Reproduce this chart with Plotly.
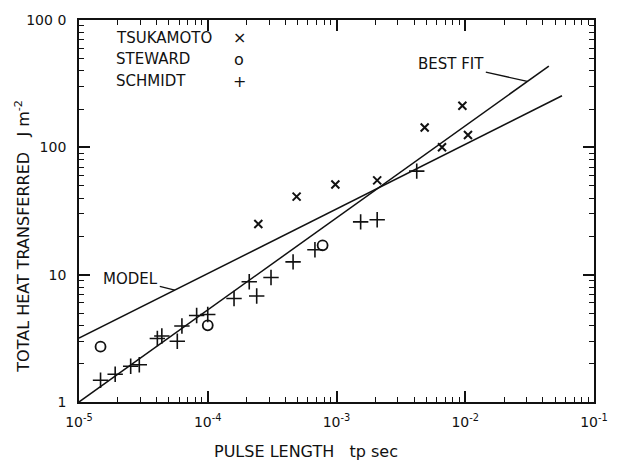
import plotly.graph_objects as go

# Data
tsukamoto_x = [2.47e-4, 4.9e-4, 9.8e-4, 2.07e-3, 4.84e-3, 6.6e-3, 9.5e-3, 1.05e-2]
tsukamoto_y = [25, 41, 51, 55, 143, 100, 212, 125]

steward_x = [1.47e-5, 1.0e-4, 7.8e-4]
steward_y = [2.72, 4.0, 17]

schmidt_x = [1.47e-5, 1.91e-5, 2.52e-5, 2.94e-5, 4.06e-5, 4.4e-5, 5.8e-5, 6.3e-5,
             8.2e-5, 1.0e-4, 1.6e-4, 2.1e-4, 2.4e-4, 3.1e-4, 4.6e-4, 6.8e-4,
             1.54e-3, 2.07e-3, 4.2e-3]
schmidt_y = [1.48, 1.65, 1.91, 1.96, 3.15, 3.3, 3.0, 3.95,
             4.78, 4.87, 6.5, 8.8, 6.8, 9.5, 12.6, 15.7,
             26, 27, 65]

bestfit_x = [1e-5, 0.0446]
bestfit_y = [1.0, 435]

model_x = [1e-5, 0.0564]
model_y = [3.17, 254]

x_tickvals = [1e-5, 1e-4, 1e-3, 1e-2, 1e-1]
x_ticktext = ["10<sup>-5</sup>", "10<sup>-4</sup>", "10<sup>-3</sup>", "10<sup>-2</sup>", "10<sup>-1</sup>"]
y_tickvals = [1, 10, 100, 1000]
y_ticktext = ["1", "10", "100", "100 0"]

legend_names = ["TSUKAMOTO", "STEWARD", "SCHMIDT"]
legend_glyphs = ["×", "o", "+"]

FONT = "DejaVu Sans"
ink = "#111111"

fig = go.Figure()

fig.add_trace(go.Scatter(x=bestfit_x, y=bestfit_y, mode="lines",
                         line=dict(color=ink, width=1.5), name="BEST FIT", showlegend=False))
fig.add_trace(go.Scatter(x=model_x, y=model_y, mode="lines",
                         line=dict(color=ink, width=1.5), name="MODEL", showlegend=False))
fig.add_trace(go.Scatter(x=tsukamoto_x, y=tsukamoto_y, mode="markers", name="TSUKAMOTO",
                         marker=dict(symbol="x-thin", size=8, line=dict(color=ink, width=2)),
                         showlegend=False))
fig.add_trace(go.Scatter(x=steward_x, y=steward_y, mode="markers", name="STEWARD",
                         marker=dict(symbol="circle-open", size=10, color=ink, line=dict(color=ink, width=1.8)),
                         showlegend=False))
fig.add_trace(go.Scatter(x=schmidt_x, y=schmidt_y, mode="markers", name="SCHMIDT",
                         marker=dict(symbol="cross-thin", size=11, line=dict(color=ink, width=1.6)),
                         showlegend=False))

annotations = []
# Legend built from text
for i, (nm, gl) in enumerate(zip(legend_names, legend_glyphs)):
    ypx = 33 + i * 22
    yy = 1 - (ypx - 15) / 387
    annotations.append(dict(xref="paper", yref="paper", x=(114 - 79) / 520, y=yy,
                            text=nm, showarrow=False, xanchor="left", yanchor="middle",
                            font=dict(family=FONT, size=15, color=ink)))
    annotations.append(dict(xref="paper", yref="paper", x=(241 - 79) / 520, y=yy,
                            text=gl, showarrow=False, xanchor="center", yanchor="middle",
                            font=dict(family=FONT, size=16, color=ink)))

# Line labels with leader lines
annotations.append(dict(x=-1.518, y=2.518, xref="x", yref="y", text="BEST FIT",
                        showarrow=True, arrowhead=0, arrowwidth=1.3, arrowcolor=ink,
                        ax=-76, ay=-17, font=dict(family=FONT, size=15, color=ink)))
annotations.append(dict(x=-4.256, y=0.879, xref="x", yref="y", text="MODEL",
                        showarrow=True, arrowhead=0, arrowwidth=1.3, arrowcolor=ink,
                        ax=-44, ay=-11, font=dict(family=FONT, size=15, color=ink)))

# Axis titles
annotations.append(dict(xref="paper", yref="paper", x=(22 - 79) / 520, y=(402 - 234) / 387,
                        text="TOTAL HEAT TRANSFERRED   J m<sup>-2</sup>", textangle=-90,
                        showarrow=False, xanchor="center", yanchor="middle",
                        font=dict(family=FONT, size=16, color=ink)))
annotations.append(dict(xref="paper", yref="paper", x=(308 - 79) / 520, y=-(452 - 402) / 387,
                        text="PULSE LENGTH   tp sec", showarrow=False,
                        xanchor="center", yanchor="middle",
                        font=dict(family=FONT, size=16, color=ink)))

axis_common = dict(type="log", showgrid=False, zeroline=False, showline=True,
                   linecolor=ink, linewidth=1.8, mirror="ticks", ticks="inside",
                   ticklen=11, tickwidth=1.5, tickcolor=ink,
                   tickfont=dict(family=FONT, size=14, color=ink),
                   minor=dict(ticks="inside", ticklen=5, tickwidth=1, tickcolor=ink,
                              dtick="D1", showgrid=False))

fig.update_xaxes(range=[-5, -1], tickvals=x_tickvals, ticktext=x_ticktext,
                 ticklabelstandoff=6, **axis_common)
fig.update_yaxes(range=[0, 3], tickvals=y_tickvals, ticktext=y_ticktext,
                 ticklabelstandoff=8, **axis_common)

fig.update_layout(width=620, height=465, margin=dict(l=79, r=21, t=15, b=63),
                  paper_bgcolor="white", plot_bgcolor="white",
                  annotations=annotations, showlegend=False,
                  font=dict(family=FONT, color=ink))

fig.write_html("out.html")
